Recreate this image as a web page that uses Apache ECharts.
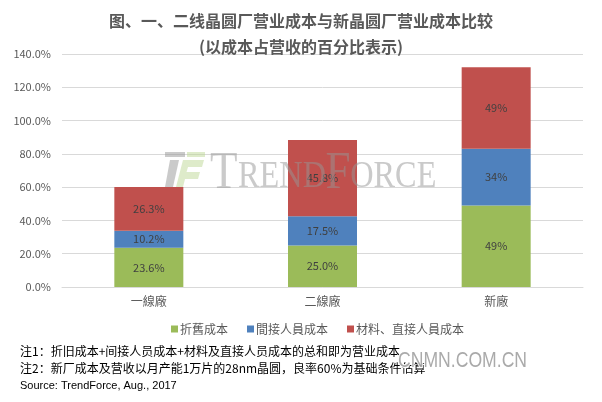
<!DOCTYPE html>
<html><head><meta charset="utf-8">
<script src="https://cdn.jsdelivr.net/npm/echarts@6/dist/echarts.min.js"></script>
<style>html,body{margin:0;padding:0;background:#fff}#c{width:602px;height:402px}</style>
</head><body><div id="c"></div>
<script>
var categories = ['一線廠', '二線廠', '新廠'];
var seriesNames = ['折舊成本', '間接人員成本', '材料、直接人員成本'];
var depreciation = [23.6, 25.0, 49];
var indirect = [10.2, 17.5, 34];
var materials = [26.3, 45.8, 49];
var labelTexts = [['23.6%', '25.0%', '49%'], ['10.2%', '17.5%', '34%'], ['26.3%', '45.8%', '49%']];
var yMin = 0, yMax = 140, yInterval = 20;
var titleText = '图、一、二线晶圆厂营业成本与新晶圆厂营业成本比较';
var subtitleText = '(以成本占营收的百分比表示)';
var notes = ['注1：折旧成本+间接人员成本+材料及直接人员成本的总和即为营业成本',
             '注2：新厂成本及营收以月产能1万片的28nm晶圆，良率60%为基础条件估算',
             'Source: TrendForce, Aug., 2017'];

var colors = ['#9BBB59', '#4F81BD', '#C0504D'];
var FONT = '"Noto Sans CJK SC", "Liberation Sans", sans-serif';
var chart = echarts.init(document.getElementById('c'), null, {renderer: 'canvas'});
var dataSets = [depreciation, indirect, materials];
var series = dataSets.map(function (d, i) {
  return {
    name: seriesNames[i], type: 'bar', stack: 'total', data: d,
    barWidth: 69,
    itemStyle: {color: colors[i]},
    label: {show: true, position: 'inside', fontSize: 11, color: '#404040', fontFamily: FONT,
      formatter: function (p) { return labelTexts[i][p.dataIndex]; }}
  };
});
var wmGray = 'rgba(150,150,150,0.5)';
var SERIF = '"Liberation Serif", serif';
chart.setOption({
  animation: false,
  textStyle: {fontFamily: FONT},
  title: [
    {text: titleText, left: 'center', top: 8, textStyle: {fontSize: 16, fontWeight: 'bold', color: '#595959', fontFamily: FONT}},
    {text: subtitleText, left: 'center', top: 34, textStyle: {fontSize: 16, fontWeight: 'bold', color: '#595959', fontFamily: FONT}}
  ],
  grid: {left: 62, right: 19, top: 54, bottom: 115},
  legend: {
    data: seriesNames, top: 318, left: 166, itemWidth: 7, itemHeight: 7, itemGap: 19,
    icon: 'rect', textStyle: {fontSize: 12, color: '#595959', fontFamily: FONT, padding: [0, 0, 0, -3]}
  },
  xAxis: {
    type: 'category', data: categories,
    axisLine: {lineStyle: {color: '#d9d9d9'}}, axisTick: {show: false},
    axisLabel: {fontSize: 12, color: '#595959', margin: 8, fontFamily: FONT}
  },
  yAxis: {
    type: 'value', min: yMin, max: yMax, interval: yInterval,
    axisLine: {show: false}, axisTick: {show: false},
    splitLine: {lineStyle: {color: '#d9d9d9'}},
    axisLabel: {fontSize: 11, color: '#595959', margin: 11, fontFamily: FONT,
      formatter: function (v) { return v.toFixed(1) + '%'; }}
  },
  graphic: [
    {type: 'group', x: 165, y: 152, z: 100, silent: true, children: [
      {type: 'rect', z: 100, shape: {x: 0, y: 0, width: 20, height: 5}, style: {fill: 'rgba(150,150,150,0.5)'}},
      {type: 'polygon', z: 100, shape: {points: [[5, 8], [14, 8], [8, 35], [0, 35]]}, style: {fill: 'rgba(150,150,150,0.5)'}},
      {type: 'rect', z: 100, shape: {x: 22, y: 0, width: 18, height: 5}, style: {fill: 'rgba(190,215,150,0.5)'}},
      {type: 'polygon', z: 100, shape: {points: [[18, 8], [39, 8], [37, 15], [23, 15], [21.5, 20], [35, 20], [33, 27], [20, 27], [18, 35], [11, 35]]}, style: {fill: 'rgba(190,215,150,0.5)'}}
    ]},
    {type: 'group', x: 210, y: 152, scaleX: 0.85, z: 100, silent: true, children: [
      {type: 'text', z: 100, x: 0, y: -4, style: {text: 'T', font: '53px ' + SERIF, fill: wmGray}},
      {type: 'text', z: 100, x: 33, y: 6, style: {text: 'REND', font: '38px ' + SERIF, fill: wmGray}},
      {type: 'text', z: 100, x: 136, y: -4, style: {text: 'F', font: '53px ' + SERIF, fill: wmGray}},
      {type: 'text', z: 100, x: 165, y: 6, style: {text: 'ORCE', font: '38px ' + SERIF, fill: wmGray}}
    ]},
    {type: 'text', left: 20, top: 345, style: {text: notes[0], font: '12px ' + FONT, fill: '#000'}},
    {type: 'text', left: 20, top: 362, style: {text: notes[1], font: '12px ' + FONT, fill: '#000'}},
    {type: 'text', left: 20, top: 380, style: {text: notes[2], font: '11px "Liberation Sans", sans-serif', fill: '#000'}},
    {type: 'group', x: 398, y: 350, scaleX: 0.8, z: 100, silent: true, children: [
      {type: 'text', z: 100, x: 0, y: 0, style: {text: 'CNMN.COM.CN', font: '22px "Liberation Sans", sans-serif', fill: 'rgba(155,155,155,0.85)', stroke: '#fff', lineWidth: 2}}
    ]}
  ],
  series: series
});
</script></body></html>
